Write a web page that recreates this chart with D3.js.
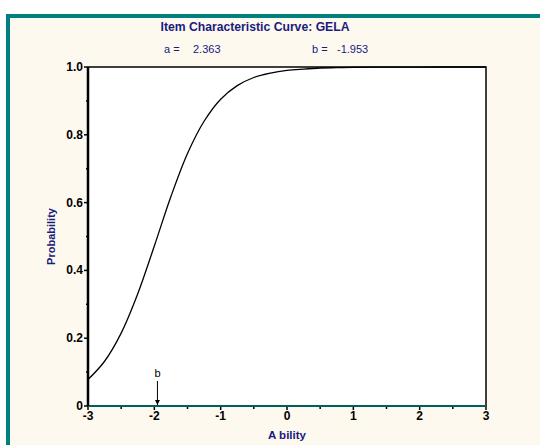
<!DOCTYPE html>
<html>
<head>
<meta charset="utf-8">
<script src="https://cdn.jsdelivr.net/npm/d3@7"></script>
<style>
  body { margin: 0; background: #ffffff; }
  svg { display: block; font-family: Arial, "Liberation Sans", sans-serif; }
</style>
</head>
<body>
<svg width="540" height="445"></svg>
<script>
  // values
  const abilities = [-3, -2.75, -2.5, -2.25, -2, -1.75, -1.5, -1.25, -1, -0.75, -0.5, -0.25, 0, 0.25, 0.5, 0.75, 1, 1.5, 2, 2.5, 3];
  const probs = [0.078, 0.132, 0.215, 0.331, 0.472, 0.618, 0.745, 0.840, 0.905, 0.945, 0.969, 0.982, 0.990, 0.994, 0.997, 0.998, 0.999, 0.9997, 0.9999, 1.0, 1.0];
  const xTicks = [-3, -2, -1, 0, 1, 2, 3];
  const xMinor = [-2.5, -1.5, -0.5, 0.5, 1.5, 2.5];
  const yTicks = [0, 0.2, 0.4, 0.6, 0.8, 1.0];
  const yMinor = [0.1, 0.3, 0.5, 0.7, 0.9];
  const itemName = "GELA";
  const paramA = "2.363";
  const paramB = -1.953;

  const navy = "#1a1a80";
  const teal = "#008080";

  const svg = d3.select("svg");
  const margin = { left: 88, top: 67, right: 54, bottom: 39 };
  const width = +svg.attr("width");
  const height = +svg.attr("height");

  // panel with teal frame on top and left
  svg.append("rect")
    .attr("x", 6).attr("y", 14)
    .attr("width", width - 6).attr("height", height - 14)
    .attr("fill", "#fdf9ee");
  svg.append("rect").attr("x", 6).attr("y", 14).attr("width", width - 6).attr("height", 4).attr("fill", teal);
  svg.append("rect").attr("x", 6).attr("y", 14).attr("width", 4).attr("height", height - 14).attr("fill", teal);

  const x = d3.scaleLinear().domain([-3, 3]).range([margin.left, width - margin.right]);
  const y = d3.scaleLinear().domain([0, 1]).range([height - margin.bottom, margin.top]);

  // plot area
  svg.append("rect")
    .attr("x", x(-3)).attr("y", y(1))
    .attr("width", x(3) - x(-3)).attr("height", y(0) - y(1))
    .attr("fill", "#ffffff");

  // top and right borders
  svg.append("path")
    .attr("d", `M${x(-3)},${y(1)}H${x(3)}V${y(0)}`)
    .attr("fill", "none").attr("stroke", "#000").attr("stroke-width", 1.5);

  // titles
  svg.append("text")
    .attr("x", 255).attr("y", 31)
    .attr("text-anchor", "middle")
    .attr("font-size", 13).attr("font-weight", "bold")
    .attr("fill", navy)
    .attr("textLength", 189).attr("lengthAdjust", "spacingAndGlyphs")
    .text("Item Characteristic Curve: " + itemName);

  const params = [
    { label: "a =", value: paramA, x: 164, vx: 193 },
    { label: "b =", value: paramB.toFixed(3), x: 312, vx: 337 }
  ];
  params.forEach(p => {
    svg.append("text").attr("x", p.x).attr("y", 53)
      .attr("font-size", 11).attr("fill", navy).text(p.label);
    svg.append("text").attr("x", p.vx).attr("y", 53)
      .attr("font-size", 11).attr("fill", navy).text(p.value);
  });

  // x axis (teal line)
  const xAxis = svg.append("g").attr("transform", `translate(0,${y(0)})`);
  xAxis.selectAll(".major").data(xTicks).join("line")
    .attr("x1", d => x(d)).attr("x2", d => x(d))
    .attr("y1", 0).attr("y2", 4)
    .attr("stroke", "#000").attr("stroke-width", 1.5);
  xAxis.selectAll(".minor").data(xMinor).join("line")
    .attr("class", "minor")
    .attr("x1", d => x(d)).attr("x2", d => x(d))
    .attr("y1", 0).attr("y2", 3)
    .attr("stroke", "#000").attr("stroke-width", 1.5);
  xAxis.selectAll("text").data(xTicks).join("text")
    .attr("x", d => x(d)).attr("y", 14)
    .attr("text-anchor", "middle")
    .attr("font-size", 12).attr("font-weight", "bold")
    .text(d => d);
  xAxis.append("line")
    .attr("x1", x(-3)).attr("x2", x(3))
    .attr("stroke", "#00605c").attr("stroke-width", 2);

  // y axis
  const yAxis = svg.append("g").attr("transform", `translate(${x(-3)},0)`);
  yAxis.selectAll(".major").data(yTicks).join("line")
    .attr("x1", -4).attr("x2", 0)
    .attr("y1", d => y(d)).attr("y2", d => y(d))
    .attr("stroke", "#000").attr("stroke-width", 1.5);
  yAxis.selectAll(".minor").data(yMinor).join("line")
    .attr("class", "minor")
    .attr("x1", -2).attr("x2", 0)
    .attr("y1", d => y(d)).attr("y2", d => y(d))
    .attr("stroke", "#000").attr("stroke-width", 1.5);
  yAxis.selectAll("text").data(yTicks).join("text")
    .attr("x", -5).attr("y", d => y(d) + 4)
    .attr("text-anchor", "end")
    .attr("font-size", 12).attr("font-weight", "bold")
    .text(d => d === 0 ? "0" : d3.format(".1f")(d));
  yAxis.append("line")
    .attr("y1", y(0)).attr("y2", y(1))
    .attr("stroke", "#000").attr("stroke-width", 2.5);

  // axis labels
  svg.append("text")
    .attr("x", (x(-3) + x(3)) / 2).attr("y", 439)
    .attr("text-anchor", "middle")
    .attr("font-size", 11.5).attr("font-weight", "bold")
    .attr("fill", navy)
    .text("A bility");
  svg.append("text")
    .attr("transform", `translate(55,${(y(0) + y(1)) / 2}) rotate(-90)`)
    .attr("text-anchor", "middle")
    .attr("font-size", 11).attr("font-weight", "bold")
    .attr("fill", navy)
    .text("Probability");

  // the curve
  const line = d3.line()
    .x((d, i) => x(abilities[i]))
    .y(d => y(d))
    .curve(d3.curveCatmullRom);
  svg.append("path")
    .datum(probs)
    .attr("d", line)
    .attr("fill", "none")
    .attr("stroke", "#000")
    .attr("stroke-width", 1.3);

  // marker for b
  svg.append("defs").append("marker")
    .attr("id", "arrow")
    .attr("viewBox", "0 0 10 10")
    .attr("refX", 10).attr("refY", 5)
    .attr("markerWidth", 5).attr("markerHeight", 5)
    .attr("orient", "auto")
    .append("path").attr("d", "M0,0L10,5L0,10Z").attr("fill", "#000");
  svg.append("line")
    .attr("x1", x(paramB)).attr("x2", x(paramB))
    .attr("y1", 381).attr("y2", y(0) - 1)
    .attr("stroke", "#000").attr("stroke-width", 1)
    .attr("marker-end", "url(#arrow)");
  svg.append("text")
    .attr("x", x(paramB)).attr("y", 377)
    .attr("text-anchor", "middle")
    .attr("font-size", 11)
    .text("b");
</script>
</body>
</html>
